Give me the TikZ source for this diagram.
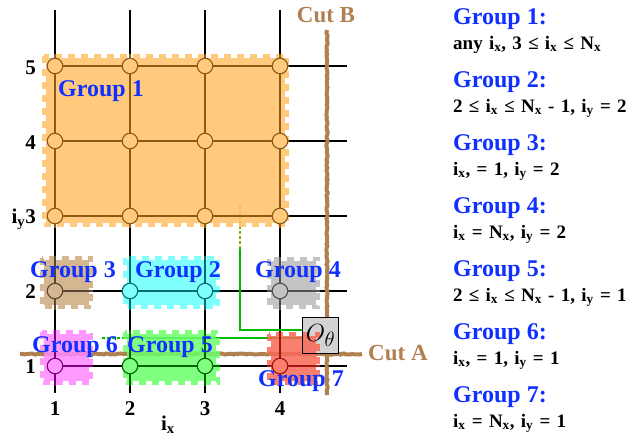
\documentclass[tikz,border=0pt]{standalone}
\usepackage{fontspec}
\setmainfont{Liberation Serif}
\usepackage{tikz}
\usetikzlibrary{decorations.pathmorphing}
\definecolor{g1fill}{RGB}{255, 191, 103}
\definecolor{g1line}{RGB}{140, 90, 20}
\definecolor{g2fill}{RGB}{106, 255, 255}
\definecolor{g2line}{RGB}{0, 110, 110}
\definecolor{g3fill}{RGB}{205, 170, 125}
\definecolor{g3line}{RGB}{90, 70, 50}
\definecolor{g4fill}{RGB}{186, 186, 186}
\definecolor{g4line}{RGB}{80, 80, 80}
\definecolor{g5fill}{RGB}{106, 255, 106}
\definecolor{g5line}{RGB}{0, 100, 0}
\definecolor{g6fill}{RGB}{255, 135, 255}
\definecolor{g6line}{RGB}{128, 0, 128}
\definecolor{g7fill}{RGB}{249, 104, 86}
\definecolor{g7line}{RGB}{160, 20, 20}
\definecolor{boxgray}{RGB}{211, 211, 211}
\definecolor{cutbrown}{RGB}{176, 128, 80}
\definecolor{labelblue}{RGB}{16, 48, 255}
\definecolor{gline}{RGB}{0, 185, 0}
\definecolor{gdot}{RGB}{120, 185, 0}
\pgfdeclarelayer{back}
\pgfdeclarelayer{mid}
\pgfsetlayers{back,mid,main}
% legend condition font, with wide word spaces
\newcommand{\descfont}{\bfseries\fontsize{19}{21}\selectfont\spaceskip=.33em\relax}
% grid lines, clipped or not
\newcommand{\gridlines}{%
  \foreach \col in {1,...,4} {\draw (t\col) -- (b\col);}
  \foreach \row in {1,...,5} {\draw (n1\row.center) -- (r\row);}}
% one group: stamped patch + coloured grid lines inside it
\newcommand{\groupzone}[5]{%
  \begin{pgfonlayer}{back}
    \fill[patch=#1fill] ({#2+4},{#3+4}) rectangle ({#4-4},{#5-4});
    \draw[rim=#1fill] ({#2+2},{#3+2}) rectangle ({#4-2},{#5-2});
  \end{pgfonlayer}
  \begin{pgfonlayer}{mid}
    \begin{scope}[gridline, #1line]
      \clip (#2,#3) rectangle (#4,#5);
      \gridlines
    \end{scope}
  \end{pgfonlayer}}

\begin{document}
\begin{tikzpicture}[
          x=1pt, y=-1pt,
          gridline/.style={line width=1.3pt},
          pt/.style={circle, inner sep=0pt, minimum size=15.5pt, line width=1.1pt,
                     fill=#1fill!85!white, draw=#1line},
          patch/.style={fill=#1, opacity=.85},
          rim/.style={draw=#1, opacity=.85, line width=4pt, dash pattern=on 7pt off 6pt},
          cut/.style={draw=cutbrown, line width=4pt, decorate,
                      decoration={random steps, segment length=2pt, amplitude=.6pt}},
          obox/.style={draw, line width=1.2pt, minimum size=36pt, inner sep=0pt,
                       font=\fontsize{28}{30}\selectfont},
          glink/.style={draw=gline, line width=2pt},
          glabel/.style={text=labelblue, font=\bfseries\fontsize{24}{26}\selectfont,
                         anchor=base west, inner sep=0pt},
          desc/.style={font=\descfont, anchor=base west, inner sep=0pt},
          axis/.style={font=\bfseries\fontsize{21}{23}\selectfont, inner sep=0pt},
          cutlabel/.style={text=cutbrown, font=\bfseries\fontsize{23}{25}\selectfont, inner sep=0pt},
        ]
        \useasboundingbox (0,0) rectangle (635,439);
        % ends of the grid lines
        \foreach \col/\x in {1/55, 2/130, 3/205, 4/280} {
          \coordinate (t\col) at (\x,10);
          \coordinate (b\col) at (\x,393);
        }
        \foreach \row/\y in {1/366, 2/291, 3/216, 4/141, 5/66}
          \coordinate (r\row) at (347,\y);
        \coordinate (cutAl) at (20,354);
        \coordinate (cutAr) at (362,354);
        \coordinate (cutBt) at (327,30);
        \coordinate (cutBb) at (327,395);
        \coordinate (gup)   at (240,249);
        \coordinate (gtop)  at (240,205);
        \coordinate (gleft) at (125,338);
        \coordinate (gend)  at (100,338);

        % grid points
        \foreach \col/\x in {1/55, 2/130, 3/205, 4/280}
          \foreach \row/\y in {3/216, 4/141, 5/66}
            \node[pt=g1] (n\col\row) at (\x,\y) {};
        \node[pt=g3] (n12) at (55,291) {};
        \node[pt=g2] (n22) at (130,291) {};
        \node[pt=g2] (n32) at (205,291) {};
        \node[pt=g4] (n42) at (280,291) {};
        \node[pt=g6] (n11) at (55,366) {};
        \node[pt=g5] (n21) at (130,366) {};
        \node[pt=g5] (n31) at (205,366) {};
        \node[pt=g7] (n41) at (280,366) {};
        \node[obox] (otheta) at (320.5,335.5) {$O_\theta$};

        \begin{pgfonlayer}{back}
          \begin{scope}[gridline]
            \gridlines
          \end{scope}
          \draw[cut] (cutAl) -- (cutAr);
          \draw[cut] (cutBt) -- (cutBb);
          \fill[boxgray] (otheta.south west) rectangle (otheta.north east);
          \draw[glink] ([yshift=5.5pt]otheta.west) -| (gup);
          \draw[glink, draw=gdot, dash pattern=on 3pt off 2pt] (gup) -- (gtop);
          \draw[glink] ([yshift=-2.5pt]otheta.west) -- (gleft);
          \draw[glink, dash pattern=on 3pt off 2pt] (gleft) -- (gend);
        \end{pgfonlayer}

        \groupzone{g1}{42}{54}{289}{227}
        \groupzone{g3}{40}{256}{93}{309}
        \groupzone{g2}{123}{256}{220}{309}
        \groupzone{g4}{267}{257}{320}{309}
        \groupzone{g6}{40}{330}{93}{385}
        \groupzone{g5}{123}{330}{220}{385}
        \groupzone{g7}{267}{332}{320}{385}

        \node[glabel] (lab1) at (58,96)   {Group 1};
        \node[glabel] (lab3) at (30,277)  {Group 3};
        \node[glabel] (lab2) at (135,277) {Group 2};
        \node[glabel] (lab4) at (255,277) {Group 4};
        \node[glabel] (lab6) at (32,352)  {Group 6};
        \node[glabel] (lab5) at (127,352) {Group 5};
        \node[glabel] (lab7) at (258,386) {Group 7};

        \node[cutlabel, anchor=base] (cutBlab) at (326,23) {Cut B};
        \node[cutlabel, anchor=base west] (cutAlab) at (368,360) {Cut A};

        % axes
        \node[axis, anchor=base east] (y5) at (36,74)  {5};
        \node[axis, anchor=base east] (y4) at (36,149) {4};
        \node[axis, anchor=base east] (y3) at (36,223) {i\textsubscript{y}3};
        \node[axis, anchor=base east] (y2) at (36,298) {2};
        \node[axis, anchor=base east] (y1) at (36,373) {1};
        \node[axis, anchor=base] (x1) at (55,415)  {1};
        \node[axis, anchor=base] (x2) at (130,415) {2};
        \node[axis, anchor=base] (x3) at (205,415) {3};
        \node[axis, anchor=base] (x4) at (280,415) {4};
        \node[axis, anchor=base] (xlab) at (168,430) {i\textsubscript{x}};

        % legend
        \node[glabel] (head1) at (453,24)  {Group 1:};
        \node[desc]   (cond1) at (453,49)  {any i\textsubscript{x}, 3 ≤ i\textsubscript{x} ≤ N\textsubscript{x}};
        \node[glabel] (head2) at (453,87)  {Group 2:};
        \node[desc]   (cond2) at (453,112) {2 ≤ i\textsubscript{x} ≤ N\textsubscript{x} - 1, i\textsubscript{y} = 2};
        \node[glabel] (head3) at (453,150) {Group 3:};
        \node[desc]   (cond3) at (453,175) {i\textsubscript{x}, = 1, i\textsubscript{y} = 2};
        \node[glabel] (head4) at (453,213) {Group 4:};
        \node[desc]   (cond4) at (453,238) {i\textsubscript{x} = N\textsubscript{x}, i\textsubscript{y} = 2};
        \node[glabel] (head5) at (453,276) {Group 5:};
        \node[desc]   (cond5) at (453,301) {2 ≤ i\textsubscript{x} ≤ N\textsubscript{x} - 1, i\textsubscript{y} = 1};
        \node[glabel] (head6) at (453,339) {Group 6:};
        \node[desc]   (cond6) at (453,364) {i\textsubscript{x}, = 1, i\textsubscript{y} = 1};
        \node[glabel] (head7) at (453,402) {Group 7:};
        \node[desc]   (cond7) at (453,427) {i\textsubscript{x} = N\textsubscript{x}, i\textsubscript{y} = 1};
      \end{tikzpicture}
\end{document}
